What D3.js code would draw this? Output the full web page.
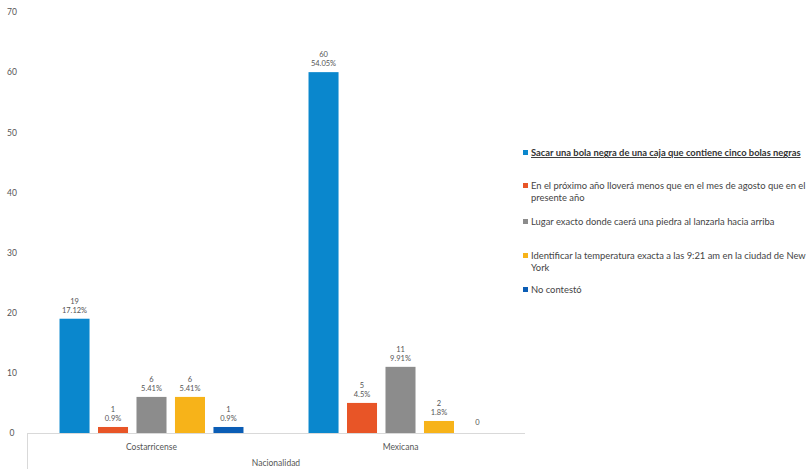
<!DOCTYPE html>
<html><head><meta charset="utf-8">
<script src="https://cdn.jsdelivr.net/npm/d3@7"></script>
<style>
body{margin:0;background:#fff;}
svg{font-family:Lato, "Open Sans", sans-serif;}
</style></head>
<body><svg id="c" width="810" height="469"></svg>
<script>
const categories = ["Costarricense", "Mexicana"];
const seriesNames = [
  "Sacar una bola negra de una caja que contiene cinco bolas negras",
  "En el próximo año lloverá menos que en el mes de agosto que en el presente año",
  "Lugar exacto donde caerá una piedra al lanzarla hacia arriba",
  "Identificar la temperatura exacta a las 9:21 am en la ciudad de New York",
  "No contestó"
];
const costarricense = [19, 1, 6, 6, 1];
const mexicana = [60, 5, 11, 2, 0];
const pctCostarricense = ["17.12%", "0.9%", "5.41%", "5.41%", "0.9%"];
const pctMexicana = ["54.05%", "4.5%", "9.91%", "1.8%", ""];
const yTicks = [0, 10, 20, 30, 40, 50, 60, 70];
const axisTitle = "Nacionalidad";
const colors = ["#0a87cd", "#e85527", "#8c8c8c", "#f7b319", "#0b5db5"];

const values = [costarricense, mexicana];
const pcts = [pctCostarricense, pctMexicana];

const svg = d3.select("#c");
const mLeft = 27, mRight = 525, mTop = 12, mBottom = 433;

const y = d3.scaleLinear().domain([0, 70]).range([mBottom, mTop]);
const x0 = d3.scaleBand().domain(categories).range([mLeft, mRight]);
const x1 = d3.scaleBand().domain(d3.range(seriesNames.length))
  .range([0, x0.bandwidth()]).paddingOuter(0.845).paddingInner(0.22);

// y axis labels
const yAxis = d3.axisLeft(y).tickValues(yTicks).tickSize(0).tickPadding(0);
const ga = svg.append("g").attr("transform", "translate(12,0)").call(yAxis);
ga.select(".domain").remove();
ga.selectAll("text").attr("font-size", 8.5).attr("fill", "#555").attr("text-anchor", "middle")
  .attr("font-family", "Lato, sans-serif");

// bars
categories.forEach((c, ci) => {
  const g = svg.append("g").attr("transform", `translate(${x0(c)},0)`);
  values[ci].forEach((v, si) => {
    const bx = x1(si), bw = x1.bandwidth();
    if (v > 0) {
      g.append("rect").attr("x", bx).attr("y", y(v)).attr("width", bw)
        .attr("height", y(0) - y(v)).attr("fill", colors[si]);
    }
    const cx = bx + bw / 2;
    if (pcts[ci][si]) {
      g.append("text").attr("x", cx).attr("y", y(v) - 15).attr("text-anchor", "middle")
        .attr("font-size", 7.5).attr("fill", "#555").text(v);
      g.append("text").attr("x", cx).attr("y", y(v) - 6).attr("text-anchor", "middle")
        .attr("font-size", 7.5).attr("fill", "#555").text(pcts[ci][si]);
    } else {
      g.append("text").attr("x", cx).attr("y", y(v) - 8).attr("text-anchor", "middle")
        .attr("font-size", 7.5).attr("fill", "#555").text(v);
    }
  });
});

// x axis frame
svg.append("line").attr("x1", mLeft).attr("x2", mRight).attr("y1", y(0)+0.5).attr("y2", y(0)+0.5)
  .attr("stroke", "#d9d9d9").attr("stroke-width", 1);
svg.append("line").attr("x1", mLeft+0.5).attr("x2", mLeft+0.5).attr("y1", y(0)).attr("y2", 469)
  .attr("stroke", "#d9d9d9");
categories.forEach(c => {
  svg.append("text").attr("x", x0(c) + x0.bandwidth() / 2).attr("y", 450)
    .attr("text-anchor", "middle").attr("font-size", 8.5).attr("fill", "#555").text(c);
});
svg.append("text").attr("x", (mLeft + mRight) / 2).attr("y", 466).attr("text-anchor", "middle")
  .attr("font-size", 8.5).attr("fill", "#555").text(axisTitle);

// legend
const legY = [156, 189, 225, 259, 293];
const lx = 531, maxW = 276;
seriesNames.forEach((name, i) => {
  svg.append("rect").attr("x", lx - 8).attr("y", legY[i] - 6).attr("width", 5).attr("height", 5)
    .attr("fill", colors[i]);
  const t = svg.append("text").attr("x", lx).attr("y", legY[i]).attr("font-size", 9.4)
    .attr("fill", i === 0 ? "#333" : "#444");
  if (i === 0) t.attr("text-decoration", "underline").attr("font-weight", "bold");
  const words = name.split(" ");
  let line = [], ts = t.append("tspan").attr("x", lx).attr("dy", 0);
  words.forEach(w => {
    line.push(w);
    ts.text(line.join(" "));
    if (ts.node().getComputedTextLength() > maxW && line.length > 1) {
      line.pop(); ts.text(line.join(" "));
      line = [w];
      ts = t.append("tspan").attr("x", lx).attr("dy", 12).text(w);
    }
  });
});
</script></body></html>
